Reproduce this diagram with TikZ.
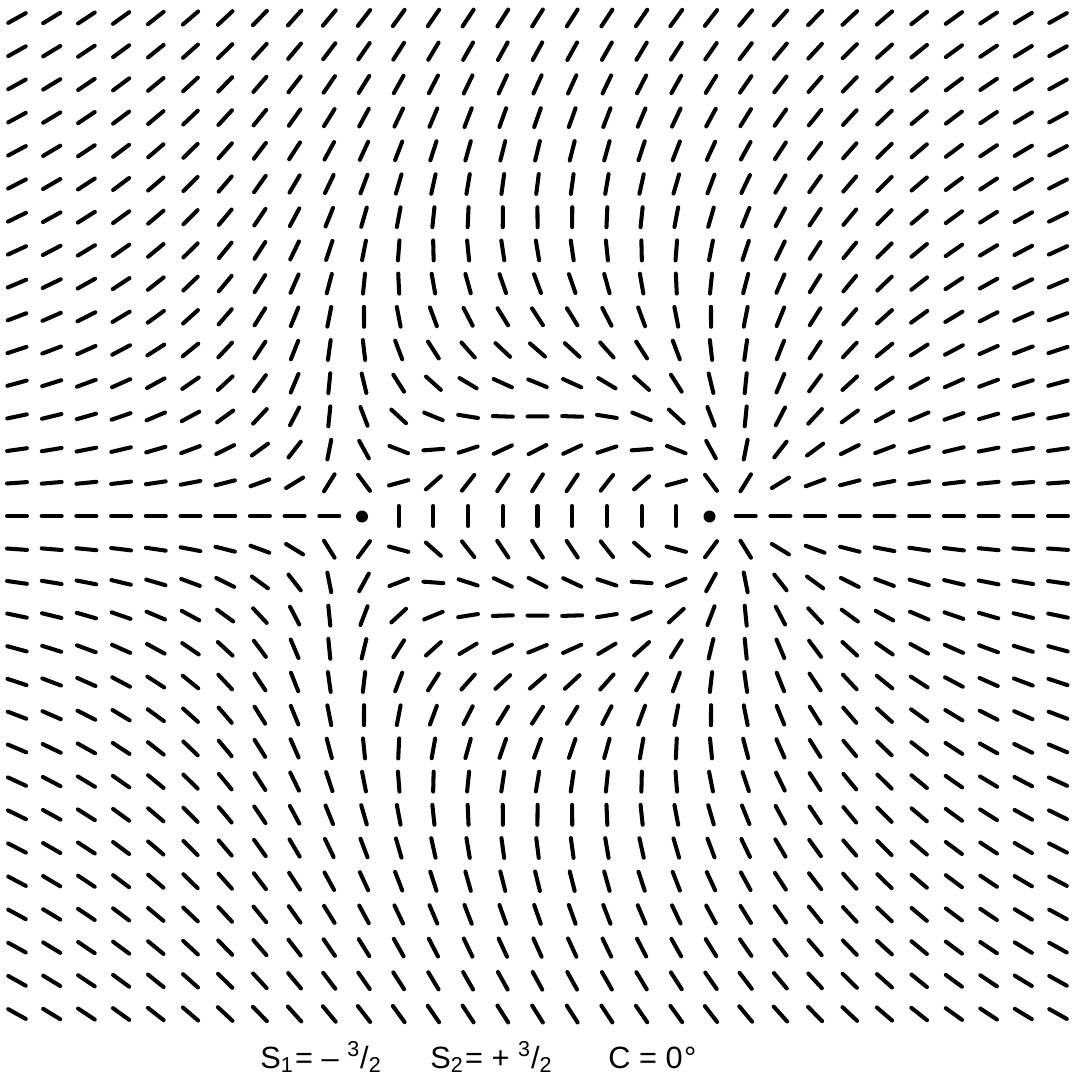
\documentclass[tikz,border=0pt]{standalone}
\usepackage{fontspec}
\setmainfont{Liberation Sans}

\begin{document}
\begin{tikzpicture}[x=0.02cm, y=-0.02cm]
    \tikzset{director/.style={line width=2.3pt, line cap=round},
             core/.style={circle, fill=black, inner sep=0pt, minimum size=0.24cm},
             caption/.style={anchor=base west, inner sep=0pt, font=\fontsize{17.5}{20}\selectfont}}
    \useasboundingbox (0,0) rectangle (1079,1092);

    % Disclination cores
    \node[core] (s1) at (362,516.5) {}; % S1 = -3/2
    \node[core] (s2) at (709.5,516.5) {}; % S2 = +3/2

    % Director field: theta = S1*phi1 + S2*phi2 + C
    \foreach \i in {0,...,30}{
        \foreach \j in {0,...,30}{
            \pgfmathtruncatemacro{\onCore}{(\j==15)&&((\i==10)||(\i==20))}
            \ifnum\onCore=0
                \pgfmathsetmacro{\px}{17+34.7*\i}
                \pgfmathsetmacro{\py}{18+33.2*\j}
                \pgfmathsetmacro{\ang}{-1.5*atan2(33.2*(15-\j),34.7*(\i-10)) + 1.5*atan2(33.2*(15-\j),34.7*(\i-20))}
                \draw[director] ({\px+10*cos(\ang)},{\py-10*sin(\ang)}) -- ({\px-10*cos(\ang)},{\py+10*sin(\ang)});
            \fi
        }
    }

    % Label the strengths
    \node[caption] (lab1) at (260,1068) {S\textsubscript{1}\kern0.05em= -- \textsuperscript{3}/\textsubscript{2}};
    \node[caption] (lab2) at (430,1068) {S\textsubscript{2}\kern0.05em= + \textsuperscript{3}/\textsubscript{2}};
    \node[caption] (lab3) at (608,1068) {C = 0\kern0.05em\textdegree};
\end{tikzpicture}
\end{document}
